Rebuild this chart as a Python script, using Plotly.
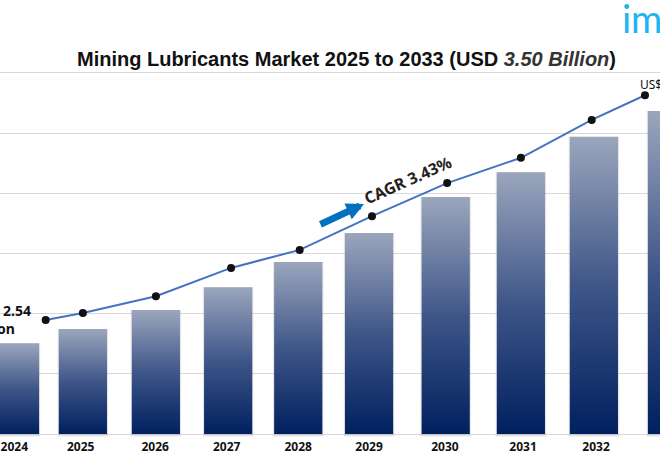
import plotly.graph_objects as go

# years and readings (y in gridline units, no scale is printed)
years = ["2024", "2025", "2026", "2027", "2028", "2029", "2030", "2031", "2032", "2033"]
bar_x = [2024.0, 2024.93, 2025.93, 2026.92, 2027.88, 2028.85, 2029.9, 2030.93, 2031.93, 2033.0]
bar_values = [1.51, 1.745, 2.06, 2.44, 2.86, 3.34, 3.94, 4.35, 4.94, 5.37]
label_x = [2023.99, 2024.9, 2025.92, 2026.9, 2027.88, 2028.85, 2029.89, 2030.96, 2031.96, 2033.0]
line_x = [2024.42, 2024.93, 2025.93, 2026.96, 2027.9, 2028.89, 2029.92, 2030.93, 2031.9, 2032.63]
line_values = [1.895, 2.01, 2.29, 2.76, 3.06, 3.62, 4.17, 4.59, 5.22, 5.63]

BAR_W = 0.66
W, H = 660, 464
M_T, M_B = 70, 26
PX_X = 73.0
PX_Y = 60.17


# page pixel -> data, so labels can hang off the edge like in the original
def dx(x):
    return 2024 + (x - 15) / PX_X


def dy(y):
    return (434 - y) / PX_Y


fig = go.Figure()

# soft shadow behind the gradient bars
fig.add_trace(go.Bar(x=bar_x, y=[v + 0.04 for v in bar_values], width=BAR_W + 0.03, base=-0.04,
                     marker=dict(color="rgba(120,120,120,0.2)", line_width=0),
                     hoverinfo="skip"))

for x, v in zip(bar_x, bar_values):
    fig.add_trace(go.Scatter(
        x=[x - BAR_W / 2, x - BAR_W / 2, x + BAR_W / 2, x + BAR_W / 2, x - BAR_W / 2],
        y=[0, v, v, 0, 0], mode="lines", line_width=0, fill="toself",
        fillgradient=dict(type="vertical",
                          colorscale=[[0, "#00205f"], [0.5, "#3f5688"], [1, "#9ba6bd"]]),
        hoverinfo="skip"))

fig.add_trace(go.Scatter(x=line_x, y=line_values, mode="lines+markers",
                         line=dict(color="#4472c4", width=2),
                         marker=dict(color="#111111", size=8)))

fig.update_layout(
    width=W, height=H, showlegend=False, plot_bgcolor="white", paper_bgcolor="white",
    margin=dict(l=0, r=0, t=M_T, b=M_B),
    title=dict(text='<b>Mining Lubricants Market 2025 to 2033 (USD '
                    '<i><span style="color:#333333">3.50 Billion</span></i>)</b>',
               x=346.5 / W, xanchor="center", y=1 - 59 / H, yanchor="middle",
               font=dict(family="Liberation Sans", size=20, color="#111111")),
    xaxis=dict(range=[dx(0), dx(W)], tickmode="array", tickvals=label_x, ticktext=years,
               showgrid=False, zeroline=False, ticks="",
               tickfont=dict(family="Noto Sans", size=12, color="#111111", weight=700)),
    yaxis=dict(range=[dy(H - M_B), dy(M_T)], tickvals=[0, 1, 2, 3, 4, 5, 6],
               showticklabels=False, gridcolor="#d9d9d9", gridwidth=1,
               zeroline=False, ticks=""),
)

fig.add_annotation(x=dx(33), y=dy(310), xanchor="right", yanchor="middle",
                   showarrow=False, text="<b>US$ 2.54</b>",
                   font=dict(family="Noto Sans", size=14, color="#111111"))
fig.add_annotation(x=dx(17), y=dy(328), xanchor="right", yanchor="middle",
                   showarrow=False, text="<b>Billion</b>",
                   font=dict(family="Noto Sans", size=14, color="#111111"))
fig.add_annotation(x=dx(640), y=dy(84), xanchor="left", yanchor="middle", xshift=-2,
                   showarrow=False, text="US$ 3.50 Billion",
                   font=dict(family="Noto Sans", size=12, color="#111111"))
fig.add_annotation(x=dx(622), xanchor="left", xshift=-2, y=1 + (M_T - 18) / (H - M_T - M_B),
                   yref="paper", yanchor="middle", showarrow=False, text="imarc",
                   font=dict(family="Lato", size=38, color="#1cb5f0"))
fig.add_annotation(x=dx(408), y=dy(180), xanchor="center", yanchor="middle", textangle=-24,
                   showarrow=False, text="<b>CAGR 3.43%</b>",
                   font=dict(family="Noto Sans", size=16, color="#222222"))
fig.add_annotation(x=dx(364), y=dy(204), axref="pixel", ayref="pixel",
                   ax=-45, ay=21, showarrow=True, arrowhead=2, arrowsize=0.5, arrowwidth=7,
                   arrowcolor="#0070c0", text="")

fig.write_html("out.html", config={"displayModeBar": False},
               post_script="document.body.style.margin = '0';")
